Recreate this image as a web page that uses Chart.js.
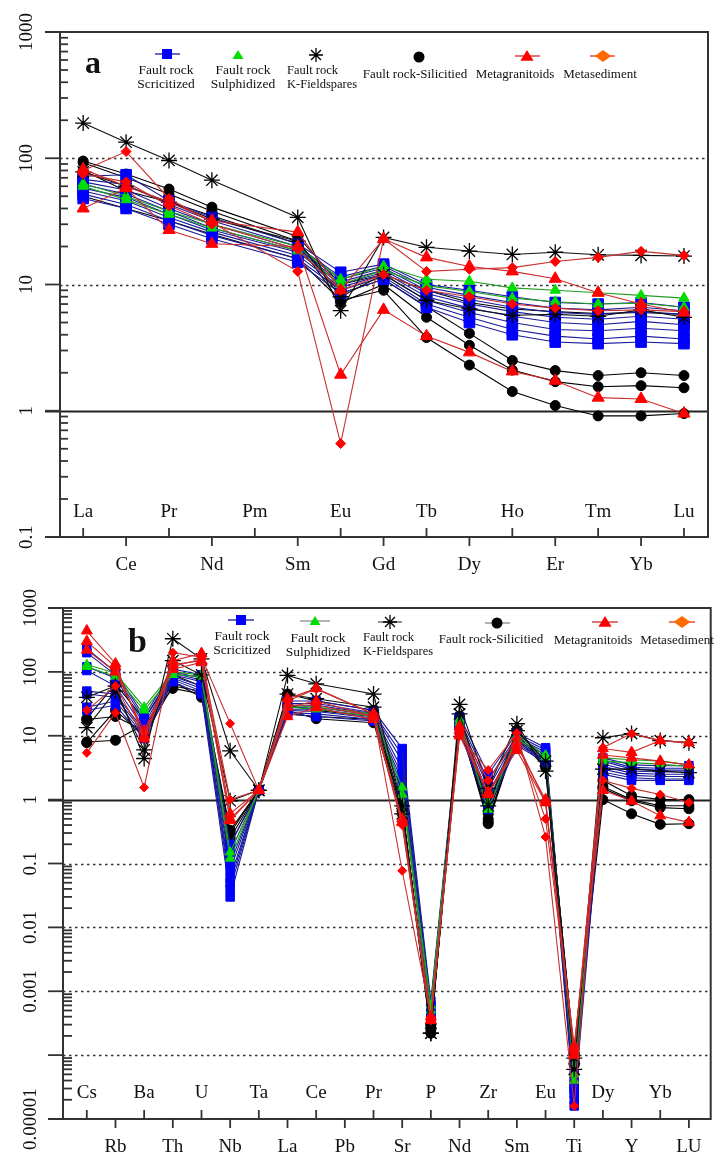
<!DOCTYPE html>
<html>
<head>
<meta charset="utf-8">
<script src="https://cdn.jsdelivr.net/npm/chart.js@4.4.1/dist/chart.umd.min.js"></script>
<style>
  body { margin: 0; background: #fff; width: 720px; height: 1156px; position: relative; overflow: hidden; }
  canvas { position: absolute; left: 0; }
  #chartA { top: 0; }
  #chartB { top: 580px; }
</style>
</head>
<body>
<canvas id="chartA" width="720" height="580" style="width:720px;height:580px"></canvas>
<canvas id="chartB" width="720" height="576" style="width:720px;height:576px"></canvas>
<script>
// Categories
const catsA = ['La', 'Ce', 'Pr', 'Nd', 'Pm', 'Sm', 'Eu', 'Gd', 'Tb', 'Dy', 'Ho', 'Er', 'Tm', 'Yb', 'Lu'];
const catsB = ['Cs', 'Rb', 'Ba', 'Th', 'U', 'Nb', 'Ta', 'La', 'Ce', 'Pb', 'Pr', 'Sr', 'P', 'Nd', 'Zr', 'Sm', 'Eu', 'Ti', 'Dy', 'Y', 'Yb', 'LU'];

// Tick values of the log axes
const yTicksA = [0.1, 1, 10, 100, 1000];
const yLabelsA = ['0.1', '1', '10', '100', '1000'];
const yTicksB = [0.00001, 0.0001, 0.001, 0.01, 0.1, 1, 10, 100, 1000];
const yLabelsB = ['0.00001', '', '0.001', '0.01', '0.1', '1', '10', '100', '1000'];

// Panel a (REE) - one row per sample, Pm not analysed
const scricitizedA = [
  [72, 74, 46, 34, null, 21, 12.5, 14.5, 10, 9, 8, 7.2, 7, 7.2, 6.6],
  [68, 62, 43, 32, null, 20, 11.5, 14, 9.5, 8.2, 7.2, 6.5, 6.3, 6.6, 6.2],
  [65, 56, 40, 30, null, 19, 11, 13.5, 9, 7.6, 6.6, 6, 5.8, 6.1, 5.8],
  [62, 52, 38, 28, null, 18.5, 10.5, 13, 8.5, 7, 6.1, 5.5, 5.3, 5.6, 5.3],
  [58, 49, 36, 27, null, 18, 10, 12.5, 8, 6.5, 5.6, 5, 4.8, 5.1, 4.8],
  [55, 46, 34, 26, null, 17, 9.5, 12, 7.5, 6, 5, 4.4, 4.3, 4.5, 4.3],
  [52, 43, 32, 24.5, null, 16, 9, 11.5, 7, 5.5, 4.4, 3.9, 3.7, 3.9, 3.7],
  [48, 40, 30, 23, null, 15, 8.5, 11, 6.6, 5, 4, 3.5, 3.4, 3.5, 3.4]
];
const sulphidizedA = [
  [63, 50, 38, 30, null, 20, 11, 14, 11, 10.6, 9.4, 9, 8.6, 8.2, 7.8],
  [60, 47, 36, 28, null, 18.5, 10, 13, 9.8, 8.8, 7.8, 7.3, 7, 7.1, 6.6]
];
const kfeldsparA = [
  [190, 134, 96, 67, null, 34, 6.2, 23.6, 19.7, 18.4, 17.3, 18, 17.2, 17, 16.8],
  [78, 60, 45, 33, null, 22, 8, 12, 7.5, 6.4, 5.7, 5.8, 5.6, 6.3, 5.5]
];
const silicifiedA = [
  [95, 75, 57, 41, null, 24, 10, 12, 9, 7.2, 6.4, 6.1, 5.9, 6, 5.8],
  [92, 70, 52, 38, null, 22, 8.5, 11, 6.7, 4.1, 2.5, 2.08, 1.9, 2, 1.9],
  [80, 55, 45, 35, null, 21, 7.2, 10, 5.5, 3.3, 2.1, 1.7, 1.55, 1.58, 1.52],
  [50, 40, 32, 25, null, 16, 7.5, 9, 3.8, 2.3, 1.42, 1.1, 0.91, 0.91, 0.95]
];
const granitoidA = [
  [40, 58, 27, 21, null, 20, 1.93, 6.3, 3.9, 2.9, 2.05, 1.73, 1.27, 1.24, 0.95],
  [82, 60, 45, 32, null, 26, 9, 23, 16.4, 13.9, 12.7, 11.1, 8.6, 7, 6]
];
const sedimentA = [
  [80, 113, 48, 31, null, 12.7, 0.55, 23, 12.7, 13.2, 13.6, 15.2, 16.4, 18.3, 17],
  [75, 65, 42, 30, null, 19, 9, 12, 9, 8, 7, 6.5, 6.2, 6.3, 6.1]
];

// Panel b (spider) - one row per sample, Pb not analysed
const scricitizedB = [
  [230, 100, 20, 110, 90, 0.2, 1.4, 35, 35, null, 25, 6.3, 0.0007, 20, 2.5, 11, 6.5, 0.00005, 4.5, 3.5, 3.4, 3.4],
  [200, 90, 18, 100, 80, 0.15, 1.4, 32, 32, null, 23, 5, 0.0006, 18, 2, 10, 6, 0.00004, 4.2, 3.2, 3.1, 3.1],
  [120, 80, 15, 95, 75, 0.1, 1.4, 30, 30, null, 22, 4, 0.0006, 17, 1.5, 9.5, 5.5, 0.000035, 4, 3, 2.9, 2.9],
  [105, 60, 13, 90, 70, 0.08, 1.4, 28, 28, null, 21, 3, 0.0005, 16, 1.2, 9, 5, 0.00003, 3.6, 2.8, 2.7, 2.7],
  [50, 45, 12, 85, 60, 0.06, 1.4, 26, 26, null, 20, 2.4, 0.0005, 15, 1, 8.5, 4.5, 0.000028, 3.3, 2.6, 2.5, 2.5],
  [45, 40, 11, 80, 55, 0.05, 1.4, 25, 24, null, 19, 2, 0.0004, 14, 0.9, 8, 4.2, 0.000025, 3, 2.4, 2.3, 2.3],
  [28, 35, 10, 75, 50, 0.04, 1.4, 23, 22, null, 18, 1.7, 0.0004, 13, 0.8, 7.5, 4, 0.00002, 2.7, 2.2, 2.1, 2.1],
  [25, 30, 9, 70, 45, 0.03, 1.4, 22, 20, null, 17, 1.4, 0.0004, 12, 0.7, 7, 3.8, 0.000016, 2.5, 2, 2, 2]
];
const sulphidizedB = [
  [130, 95, 28, 100, 90, 0.15, 1.4, 30, 28, null, 22, 1.55, 0.0006, 18, 0.7, 10, 5, 0.00004, 4.5, 4.2, 4, 3.5],
  [120, 85, 25, 90, 85, 0.12, 1.4, 28, 26, null, 20, 1.2, 0.0005, 16, 0.9, 9, 4.6, 0.00005, 4, 3.8, 3.6, 3.3]
];
const kfeldsparB = [
  [40, 60, 4.4, 330, 160, 5.8, 1.4, 88, 65, null, 45, 0.8, 0.00022, 31, 1.5, 15.4, 2.8, 0.00006, 9.3, 10.8, 8.4, 7.8],
  [13.4, 50, 6, 150, 90, 0.96, 1.4, 45, 38, null, 28, 0.6, 0.00022, 22, 0.8, 12, 4, 0.00009, 3, 3, 2.8, 2.65]
];
const silicifiedB = [
  [18.5, 65, 18, 90, 60, 0.33, 1.4, 45, 35, null, 25, 0.8, 0.00022, 20, 0.45, 12, 4.1, 0.00009, 2, 1.15, 1, 1],
  [8, 8.5, 15, 55, 45, 0.2, 1.4, 30, 25, null, 20, 0.7, 0.0003, 16, 0.42, 10, 3.5, 0.00008, 1.5, 0.96, 0.75, 0.72],
  [18, 20, 12, 70, 40, 0.25, 1.4, 25, 18.5, null, 16, 0.6, 0.00025, 14, 0.5, 9, 3.2, 0.00007, 1, 0.6, 0.41, 0.42],
  [7.8, 25, 10, 60, 50, 0.3, 1.4, 22, 20, null, 18, 0.75, 0.0003, 15, 0.6, 10, 3.8, 0.0001, 1.6, 1, 0.8, 0.8]
];
const granitoidB = [
  [440, 134, 9, 130, 150, 0.47, 1.4, 38, 55, null, 22, 0.44, 0.00035, 10, 1.28, 5.9, 0.9, 0.00014, 1.4, 0.95, 0.56, 0.44],
  [300, 120, 10, 150, 195, 0.6, 1.4, 20, 27.5, null, 18, 0.5, 0.0004, 12, 1.3, 7, 1, 0.0001, 6.3, 5.5, 8.4, 7.8],
  [220, 100, 12, 110, 140, 0.5, 1.4, 28, 35, null, 20, 0.45, 0.00035, 14, 1.2, 8, 0.9, 0.00012, 5, 4.5, 4, 3.5]
];
const sedimentB = [
  [5.4, 23, 1.55, 200, 170, 15.5, 1.4, 35, 54, null, 22, 0.077, 0.0004, 10, 2.9, 11, 0.26, 0.000016, 6.5, 10.8, 8.4, 7.8],
  [25, 60, 9, 120, 160, 1, 1.4, 30, 30, null, 20, 0.4, 0.00035, 12, 2, 9, 0.5, 0.00013, 2, 1.5, 1.2, 0.9]
];

// Look of each rock group
const styles = {
  sed:  { pointStyle: 'rectRot',  color: '#ff0000', line: '#c83030', r: 5 },
  gran: { pointStyle: 'triangle', color: '#ff0000', line: '#d02828', r: 7 },
  kf:   { pointStyle: 'star',     color: '#000000', line: '#111111', r: 8 },
  scr:  { pointStyle: 'rect',     color: '#0000ff', line: '#1a1a9c', r: 7.5 },
  sul:  { pointStyle: 'triangle', color: '#00dd00', line: '#1fa01f', r: 6 },
  sil:  { pointStyle: 'circle',   color: '#000000', line: '#000000', r: 5 }
};

const SERIF = '"Liberation Serif", "DejaVu Serif", serif';

function makeSets(rows, key, scale) {
  const s = styles[key];
  return rows.map(vals => ({
    data: vals.map((v, i) => ({ x: i, y: v })).filter(p => p.y !== null),
    borderColor: s.line,
    backgroundColor: s.color,
    pointBackgroundColor: s.color,
    pointBorderColor: s.color,
    pointStyle: s.pointStyle,
    pointRadius: s.r * scale,
    pointBorderWidth: s.pointStyle === 'star' ? 1.3 : 1,
    borderWidth: 1.1,
    tension: 0,
    fill: false
  }));
}

// draw a legend marker by hand
function drawMarker(ctx, style, x, y, r, color) {
  ctx.save();
  ctx.fillStyle = color;
  ctx.strokeStyle = color;
  ctx.lineWidth = 1.3;
  ctx.beginPath();
  if (style === 'rect') {
    ctx.fillRect(x - r, y - r, 2 * r, 2 * r);
  } else if (style === 'triangle') {
    ctx.moveTo(x, y - r); ctx.lineTo(x + r * 1.1, y + r * 0.8); ctx.lineTo(x - r * 1.1, y + r * 0.8);
    ctx.closePath(); ctx.fill();
  } else if (style === 'circle') {
    ctx.arc(x, y, r, 0, Math.PI * 2); ctx.fill();
  } else if (style === 'rectRot') {
    ctx.moveTo(x, y - r); ctx.lineTo(x + r * 1.4, y); ctx.lineTo(x, y + r); ctx.lineTo(x - r * 1.4, y);
    ctx.closePath(); ctx.fill();
  } else if (style === 'star') {
    for (let k = 0; k < 4; k++) {
      const an = k * Math.PI / 4;
      ctx.moveTo(x - r * Math.sin(an), y - r * Math.cos(an));
      ctx.lineTo(x + r * Math.sin(an), y + r * Math.cos(an));
    }
    ctx.stroke();
  }
  ctx.restore();
}

// axes, grid, labels and legend in the style of the paper figure
const spiderAxes = {
  id: 'spiderAxes',
  beforeDatasetsDraw(chart, args, o) {
    const { ctx, chartArea: a, scales: { y } } = chart;
    ctx.save();
    ctx.strokeStyle = '#333';
    ctx.lineWidth = 1.6;
    ctx.setLineDash([2.5, 3.5]);
    o.dotted.forEach(v => {
      const py = Math.round(y.getPixelForValue(v)) + 0.5;
      ctx.beginPath(); ctx.moveTo(a.left, py); ctx.lineTo(a.right, py); ctx.stroke();
    });
    ctx.setLineDash([]);
    ctx.strokeStyle = '#222';
    ctx.lineWidth = 1.8;
    const p1 = Math.round(y.getPixelForValue(1)) + 0.5;
    ctx.beginPath(); ctx.moveTo(a.left - 15, p1); ctx.lineTo(a.right, p1); ctx.stroke();
    ctx.restore();
  },
  afterDraw(chart, args, o) {
    const { ctx, chartArea: a, scales: { x, y } } = chart;
    ctx.save();
    ctx.strokeStyle = '#333';
    ctx.lineWidth = 2;
    // box
    ctx.beginPath();
    ctx.moveTo(a.left - 15, a.top); ctx.lineTo(a.right, a.top); ctx.lineTo(a.right, a.bottom);
    ctx.lineTo(a.left - 15, a.bottom);
    ctx.moveTo(a.left, a.top); ctx.lineTo(a.left, a.bottom);
    ctx.stroke();

    // y ticks
    ctx.lineWidth = 1.8;
    o.yTicks.forEach((v, i) => {
      const py = y.getPixelForValue(v);
      ctx.beginPath(); ctx.moveTo(a.left - 15, py); ctx.lineTo(a.left, py); ctx.stroke();
      if (i < o.yTicks.length - 1) {
        for (let k = 2; k <= 9; k++) {
          const pm = y.getPixelForValue(v * k);
          ctx.beginPath(); ctx.moveTo(a.left, pm); ctx.lineTo(a.left + o.minorLen, pm); ctx.stroke();
        }
      }
      if (o.yLabels[i]) {
        ctx.save();
        ctx.translate(o.yLabelX, py);
        ctx.rotate(-Math.PI / 2);
        ctx.fillStyle = '#111';
        ctx.font = o.yFont + 'px ' + SERIF;
        ctx.textAlign = 'center';
        ctx.textBaseline = 'middle';
        ctx.fillText(o.yLabels[i], 0, 0);
        ctx.restore();
      }
    });

    // x ticks and staggered labels
    ctx.fillStyle = '#111';
    ctx.font = o.xFont + 'px ' + SERIF;
    ctx.textAlign = 'center';
    ctx.textBaseline = 'middle';
    o.cats.forEach((c, i) => {
      const px = x.getPixelForValue(i);
      ctx.beginPath();
      if (i % 2 === 0) {
        ctx.moveTo(px, a.bottom); ctx.lineTo(px, a.bottom - 9);
        ctx.stroke();
        ctx.fillText(c, px, a.bottom - o.upOff);
      } else {
        ctx.moveTo(px, a.bottom); ctx.lineTo(px, a.bottom + 9);
        ctx.stroke();
        ctx.fillText(c, px, a.bottom + o.downOff);
      }
    });

    // panel letter
    ctx.font = 'bold ' + o.letterSize + 'px ' + SERIF;
    ctx.textAlign = 'left';
    ctx.textBaseline = 'alphabetic';
    ctx.fillText(o.letter, o.letterX, o.letterY);

    // legend
    o.legend.forEach(it => {
      const s = styles[it.key];
      if (it.line) {
        ctx.save();
        ctx.strokeStyle = it.lineColor || s.line;
        ctx.lineWidth = 1.3;
        ctx.beginPath(); ctx.moveTo(it.line[0], it.my); ctx.lineTo(it.line[1], it.my); ctx.stroke();
        ctx.restore();
      }
      drawMarker(ctx, s.pointStyle, it.mx, it.my, it.r, it.color || s.color);
      ctx.fillStyle = '#111';
      ctx.font = it.size + 'px ' + SERIF;
      ctx.textAlign = it.align;
      ctx.textBaseline = 'middle';
      it.text.forEach((t, j) => ctx.fillText(t, it.tx, it.ty + j * 14));
    });
    ctx.restore();
  }
};

function buildChart(id, sets, pad, xMin, xMax, yMin, yMax, axisOpts) {
  return new Chart(document.getElementById(id), {
    type: 'line',
    data: { datasets: sets },
    options: {
      responsive: false,
      animation: false,
      events: [],
      layout: { padding: pad },
      plugins: { legend: { display: false }, tooltip: { enabled: false }, spiderAxes: axisOpts },
      scales: {
        x: { type: 'linear', min: xMin, max: xMax, display: false },
        y: { type: 'logarithmic', min: yMin, max: yMax, display: false }
      }
    },
    plugins: [spiderAxes]
  });
}

// Panel a
const setsA = [].concat(
  makeSets(sedimentA, 'sed', 1),
  makeSets(granitoidA, 'gran', 1),
  makeSets(kfeldsparA, 'kf', 1),
  makeSets(sulphidizedA, 'sul', 1),
  makeSets(scricitizedA, 'scr', 1),
  makeSets(silicifiedA, 'sil', 1)
);
buildChart('chartA', setsA, { left: 60, top: 32, right: 12, bottom: 43 }, -0.54, 14.56, 0.1, 1000, {
  cats: catsA, yTicks: yTicksA, yLabels: yLabelsA, dotted: [10, 100],
  yLabelX: 27, yFont: 19, xFont: 19, upOff: 25, downOff: 28, minorLen: 8,
  letter: 'a', letterX: 85, letterY: 73, letterSize: 32,
  legend: [
    { key: 'scr', mx: 167, my: 54, r: 5, line: [155, 180], text: ['Fault rock', 'Scricitized'], tx: 166, ty: 70, align: 'center', size: 13.5 },
    { key: 'sul', mx: 238, my: 55, r: 5, text: ['Fault rock', 'Sulphidized'], tx: 243, ty: 70, align: 'center', size: 13.5 },
    { key: 'kf', mx: 316, my: 55, r: 7, text: ['Fault rock', 'K-Fieldspares'], tx: 287, ty: 71, align: 'left', size: 12.5 },
    { key: 'sil', mx: 419, my: 57, r: 5.5, text: ['Fault rock-Silicitied'], tx: 415, ty: 75, align: 'center', size: 13 },
    { key: 'gran', mx: 527, my: 56, r: 6, line: [515, 540], text: ['Metagranitoids'], tx: 515, ty: 75, align: 'center', size: 13 },
    { key: 'sed', mx: 603, my: 56, r: 6, line: [590, 615], color: '#ff6a00', lineColor: '#e03020', text: ['Metasediment'], tx: 600, ty: 75, align: 'center', size: 13 }
  ]
});

// Panel b
const setsB = [].concat(
  makeSets(sedimentB, 'sed', 0.9),
  makeSets(granitoidB, 'gran', 0.9),
  makeSets(kfeldsparB, 'kf', 1),
  makeSets(sulphidizedB, 'sul', 0.9),
  makeSets(scricitizedB, 'scr', 0.8),
  makeSets(silicifiedB, 'sil', 1)
);
buildChart('chartB', setsB, { left: 63, top: 28, right: 2, bottom: 37 }, -0.83, 21.76, 0.00001, 1000, {
  cats: catsB, yTicks: yTicksB, yLabels: yLabelsB, dotted: [0.0001, 0.001, 0.01, 0.1, 10, 100],
  yLabelX: 31, yFont: 19, xFont: 19, upOff: 26, downOff: 28, minorLen: 9,
  letter: 'b', letterX: 128, letterY: 72, letterSize: 34,
  legend: [
    { key: 'scr', mx: 241, my: 40, r: 5, line: [228, 254], text: ['Fault rock', 'Scricitized'], tx: 242, ty: 56, align: 'center', size: 13.5 },
    { key: 'sul', mx: 315, my: 41, r: 5, line: [300, 330], lineColor: '#888', text: ['Fault rock', 'Sulphidized'], tx: 318, ty: 58, align: 'center', size: 13.5 },
    { key: 'kf', mx: 390, my: 42, r: 7, line: [378, 402], lineColor: '#555', text: ['Fault rock', 'K-Fieldspares'], tx: 363, ty: 58, align: 'left', size: 12.5 },
    { key: 'sil', mx: 497, my: 43, r: 5.5, line: [485, 510], lineColor: '#888', text: ['Fault rock-Silicitied'], tx: 491, ty: 60, align: 'center', size: 13 },
    { key: 'gran', mx: 605, my: 42, r: 6, line: [592, 618], text: ['Metagranitoids'], tx: 593, ty: 61, align: 'center', size: 13 },
    { key: 'sed', mx: 682, my: 42, r: 6, line: [669, 695], color: '#ff6a00', lineColor: '#e03020', text: ['Metasediment'], tx: 677, ty: 61, align: 'center', size: 13 }
  ]
});
</script>
</body>
</html>
